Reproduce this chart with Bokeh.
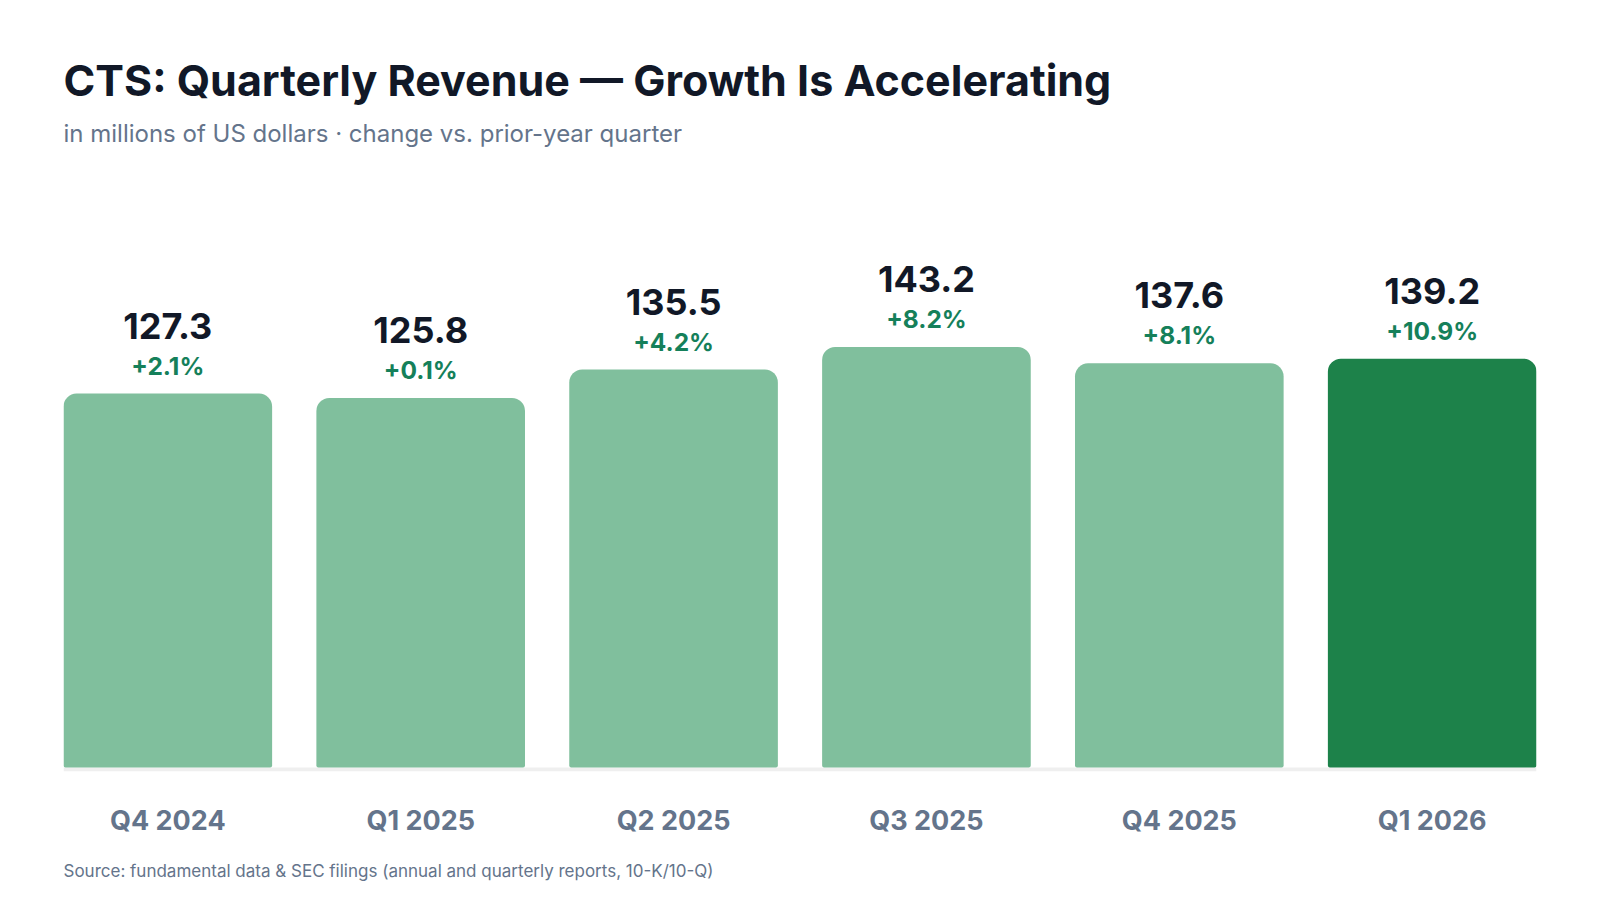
from bokeh.plotting import figure
from bokeh.models import ColumnDataSource, Range1d, FixedTicker, Title, BoxAnnotation
from bokeh.core.properties import value
from bokeh.embed import file_html
from bokeh.resources import INLINE

categories = ["Q4 2024", "Q1 2025", "Q2 2025", "Q3 2025", "Q4 2025", "Q1 2026"]
revenue = [127.3, 125.8, 135.5, 143.2, 137.6, 139.2]
yoy_change = [2.1, 0.1, 4.2, 8.2, 8.1, 10.9]
highlight = [False, False, False, False, False, True]

TITLE = "CTS: Quarterly Revenue — Growth Is Accelerating"
SUBTITLE = "in millions of US dollars · change vs. prior-year quarter"
SOURCE = "Source: fundamental data & SEC filings (annual and quarterly reports, 10-K/10-Q)"

LIGHT = "#80bf9d"
DARK = "#1d824a"
FONT = "Inter"

xs = list(range(len(categories)))
src = ColumnDataSource(dict(
    x=xs,
    top=revenue,
    color=[DARK if h else LIGHT for h in highlight],
    val_txt=[f"{v:.1f}" for v in revenue],
    pct_txt=[f"{c:+.1f}%" for c in yoy_change],
))

p = figure(
    width=1584, height=884,
    x_range=Range1d(-0.4125, len(categories) - 1 + 0.4125),
    y_range=Range1d(-1.37, 207.0),
    output_backend="svg", toolbar_location=None, title=None,
    min_border_left=63, min_border_right=48, min_border_top=159, min_border_bottom=113,
)
p.outline_line_color = None
p.grid.visible = False
p.yaxis.visible = False
p.background_fill_color = "white"
p.border_fill_color = "white"

p.add_layout(BoxAnnotation(bottom=-1.37, top=0, fill_color="#efefef", fill_alpha=1,
                           line_color=None, level="underlay"))

p.vbar(x="x", top="top", bottom=0, width=0.825, source=src, fill_color="color",
       line_color=None, border_radius=(13, 13, 2, 2))

p.text(x="x", y="top", text="val_txt", source=src, y_offset=-68,
       text_align="center", text_baseline="alphabetic",
       text_font=value(FONT), text_font_style="bold", text_font_size="36px",
       text_color="#111827")
p.text(x="x", y="top", text="pct_txt", source=src, y_offset=-28,
       text_align="center", text_baseline="alphabetic",
       text_font=value(FONT), text_font_style="bold", text_font_size="24.5px",
       text_color="#15805a")

ax = p.xaxis[0]
ax.ticker = FixedTicker(ticks=xs)
ax.major_label_overrides = {i: c for i, c in zip(xs, categories)}
ax.axis_line_color = None
ax.major_tick_line_color = None
ax.minor_tick_line_color = None
ax.major_tick_out = 0
ax.major_label_standoff = 32
ax.major_label_text_font = FONT
ax.major_label_text_font_style = "bold"
ax.major_label_text_font_size = "27px"
ax.major_label_text_color = "#64748b"
# blank axis label only reserves room between the tick labels and the source note
ax.axis_label = " "
ax.axis_label_standoff = 17
ax.axis_label_text_font_size = "1px"

p.add_layout(Title(text=SOURCE, align="left", vertical_align="top",
                   text_font=FONT, text_font_style="normal", text_font_size="17px",
                   text_color="#64748b", standoff=1), "below")

p.add_layout(Title(text=SUBTITLE, align="left",
                   text_font=FONT, text_font_style="normal", text_font_size="24px",
                   text_color="#64748b", standoff=23), "above")
p.add_layout(Title(text=TITLE, align="left",
                   text_font=FONT, text_font_style="bold", text_font_size="43px",
                   text_color="#111827", standoff=0), "above")

open("out.html", "w").write(file_html(p, INLINE))
